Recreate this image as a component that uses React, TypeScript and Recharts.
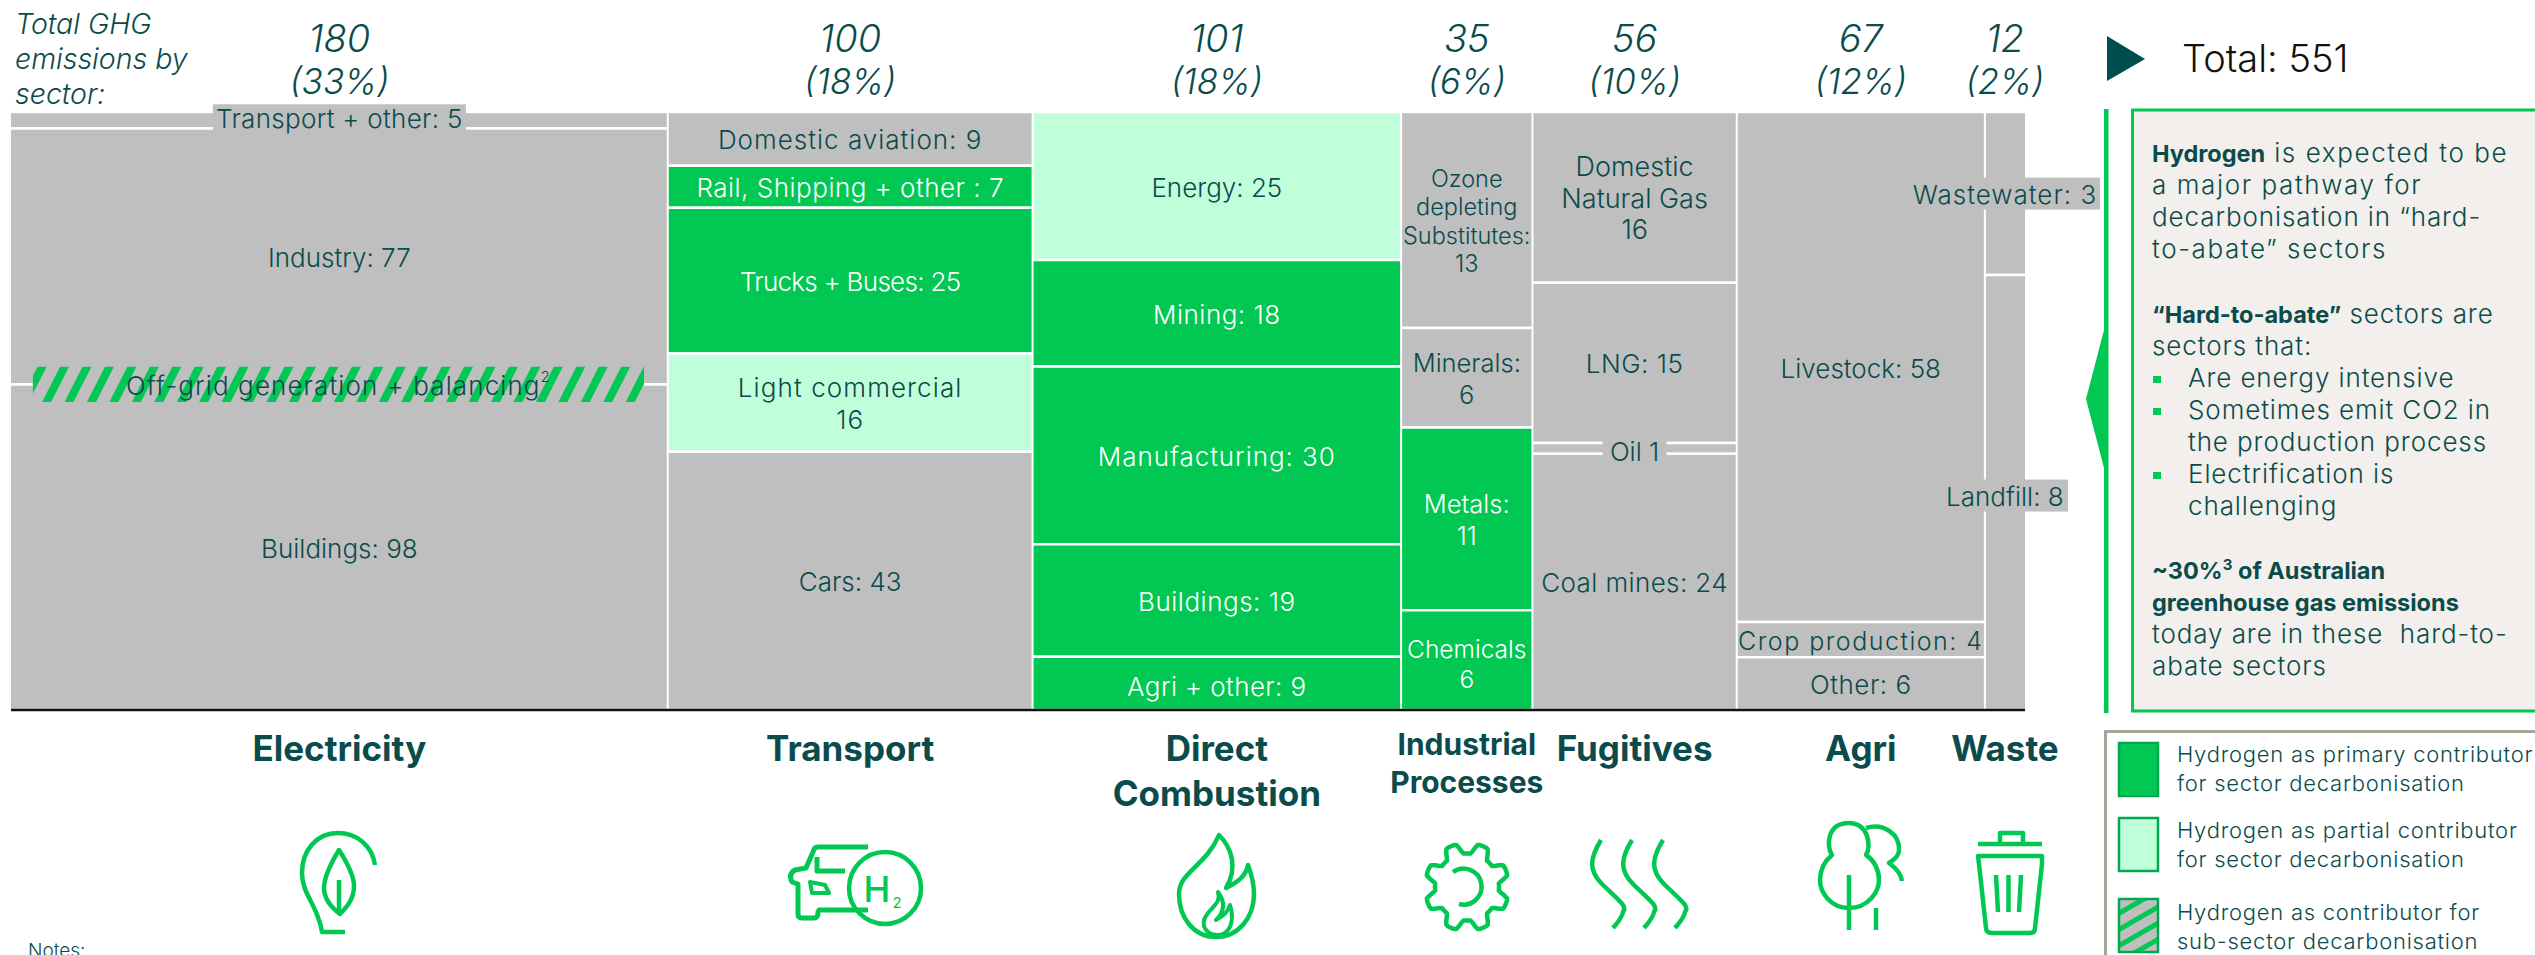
import React from 'react';
import { ComposedChart, Area, Scatter, XAxis, YAxis, ReferenceLine } from 'recharts';

const FONT = 'Inter, "Noto Sans", sans-serif';
const TEAL = '#0A4B4B';
const GREEN = '#00C853';
const LIGHT = '#C0FFD9';
const GRAY = '#BFBFBF';

const sectorNames = [['Electricity'], ['Transport'], ['Direct', 'Combustion'], ['Industrial', 'Processes'], ['Fugitives'], ['Agri'], ['Waste']];
const sectorTotals = ['180', '100', '101', '35', '56', '67', '12'];
const sectorShares = ['(33%)', '(18%)', '(18%)', '(6%)', '(10%)', '(12%)', '(2%)'];

const electricityValues = [5, 77, 98];
const transportValues = [9, 7, 24.4, 16.4, 43.2];
const combustionValues = [25, 18, 30, 19, 9];
const industrialValues = [13, 6, 11, 6];
const fugitivesValues = [16, 15, 1, 24];
const agriValues = [58, 4, 6];
const wasteValues = [3, 8];

const electricityLabels = ['Transport + other: 5', 'Industry: 77', 'Buildings: 98'];
const transportLabels = ['Domestic aviation: 9', 'Rail, Shipping + other : 7', 'Trucks + Buses: 25', 'Light commercial\n16', 'Cars: 43'];
const combustionLabels = ['Energy: 25', 'Mining: 18', 'Manufacturing: 30', 'Buildings: 19', 'Agri + other: 9'];
const industrialLabels = ['Ozone\ndepleting\nSubstitutes:\n13', 'Minerals:\n6', 'Metals:\n11', 'Chemicals\n6'];
const fugitivesLabels = ['Domestic\nNatural Gas\n16', 'LNG: 15', 'Oil 1', 'Coal mines: 24'];
const agriLabels = ['Livestock: 58', 'Crop production: 4', 'Other: 6'];
const wasteLabels = ['Wastewater: 3', 'Landfill: 8'];

const electricityTones = ['none', 'none', 'none'];
const transportTones = ['none', 'primary', 'primary', 'partial', 'none'];
const combustionTones = ['partial', 'primary', 'primary', 'primary', 'primary'];
const industrialTones = ['none', 'none', 'primary', 'primary'];
const fugitivesTones = ['none', 'none', 'none', 'none'];
const agriTones = ['none', 'none', 'none'];
const wasteTones = ['none', 'none'];

const allValues = [electricityValues, transportValues, combustionValues, industrialValues, fugitivesValues, agriValues, wasteValues];
const allLabels = [electricityLabels, transportLabels, combustionLabels, industrialLabels, fugitivesLabels, agriLabels, wasteLabels];
const allTones = [electricityTones, transportTones, combustionTones, industrialTones, fugitivesTones, agriTones, wasteTones];

// Hatched sub-sector, in axis units (x along the width axis, y as share of the column)
const offGridLabel = 'Off-grid generation + balancing';
const offGridX = [6, 173.5];
const offGridShare = [0.515, 0.574];

const toneFill: Record<string, string> = { none: GRAY, primary: GREEN, partial: LIGHT };

// text-box tweaks for labels that spill beyond their cell
const labelStyle: Record<string, any> = {
  'Transport + other: 5': { bg: [253, 26], dy: -3, ls: 0.3 },
  'Domestic aviation: 9': { ls: 1 },
  'Rail, Shipping + other : 7': { ls: 0.5 },
  'Trucks + Buses: 25': { ls: -0.7 },
  'Light commercial\n16': { ls: 1.1 },
  'Mining: 18': { ls: 0.5 },
  'Manufacturing: 30': { ls: 0.95 },
  'Buildings: 19': { ls: 0.5 },
  'Agri + other: 9': { dy: 2, ls: 0.4 },
  'Coal mines: 24': { ls: 0.4 },
  'LNG: 15': { ls: 0.5 },
  'Other: 6': { ls: 0.5 },
  'Oil 1': { bg: [64, 22], dy: 2 },
  'Wastewater: 3': { bg: [190, 32], ls: 1 },
  'Landfill: 8': { bg: [126, 32], dy: 3 },
  'Ozone\ndepleting\nSubstitutes:\n13': { size: 23.5, lh: 28.5 },
  'Domestic\nNatural Gas\n16': { size: 27 },
  'Minerals:\n6': { size: 25.5, lh: 32 },
  'Metals:\n11': { size: 25.5, lh: 32 },
  'Chemicals\n6': { size: 24.5, lh: 30, dy: 3 },
  'Crop production: 4': { size: 25, ls: 1.5 },
  'Off-grid generation + balancing': { ls: 1.1 },
};

let cursor = 0;
const cells: any[] = [];
const edges: number[] = [];
const sectorMids: number[] = [];
allValues.forEach((values, s) => {
  const width = values.reduce((a, b) => a + b, 0);
  let top = 1;
  values.forEach((v, i) => {
    const bottom = top - v / width;
    cells.push({
      key: `${s}-${i}`,
      tone: allTones[s][i],
      label: allLabels[s][i],
      points: [
        { x: cursor, range: [bottom, top] },
        { x: cursor + width, range: [bottom, top] },
      ],
      center: { x: cursor + width / 2, y: (top + bottom) / 2, label: allLabels[s][i], tone: allTones[s][i] },
    });
    top = bottom;
  });
  sectorMids.push(cursor + width / 2);
  cursor += width;
  edges.push(cursor);
});
const totalWidth = cursor;

const offGridPoints = [
  { x: offGridX[0], range: offGridShare },
  { x: offGridX[1], range: offGridShare },
];
const labelPoints = [
  ...cells.map((c) => c.center),
  { x: (offGridX[0] + offGridX[1]) / 2, y: (offGridShare[0] + offGridShare[1]) / 2, label: offGridLabel, tone: 'hatch' },
];
const headerPoints = sectorMids.map((x) => ({ x, y: 1 }));

const LabelShape = (props: any) => {
  const p = props.payload || props;
  const style = labelStyle[p.label] || {};
  const size = style.size || 26;
  const lh = style.lh || 31.5;
  const lines = String(p.label).split('\n');
  const cy = props.cy + 1 + (style.dy || 0);
  const color = p.tone === 'primary' ? '#FFFFFF' : TEAL;
  const start = cy - ((lines.length - 1) * lh) / 2;
  return (
    <g>
      {style.bg && <rect x={props.cx - style.bg[0] / 2} y={cy - 1 - style.bg[1] / 2} width={style.bg[0]} height={style.bg[1]} fill={GRAY} />}
      {lines.map((ln, i) => (
        <text key={i} x={props.cx} y={start + i * lh} textAnchor="middle" dominantBaseline="central" fontFamily={FONT} fontWeight={300} fontSize={size} letterSpacing={style.ls || 0} fill={color}>
          {ln}
          {p.tone === 'hatch' && <tspan fontSize={15} dy={-9}>2</tspan>}
        </text>
      ))}
    </g>
  );
};

const TotalTick = (props: any) => {
  const { x, y, index } = props;
  return (
    <g fontFamily={FONT} fontStyle="italic" fontWeight={300} fill={TEAL} textAnchor="middle">
      <text x={x} y={y - 54} fontSize={38}>{sectorTotals[index]}</text>
      <text x={x} y={y - 12} fontSize={35}>{sectorShares[index]}</text>
    </g>
  );
};

const NameTick = (props: any) => {
  const { x, y, index } = props;
  const lines = sectorNames[index];
  const small = index === 3;
  return (
    <g fontFamily={FONT} fontWeight={700} fontSize={small ? 30 : 35} fill={TEAL} textAnchor="middle">
      {lines.map((ln, i) => (
        <text key={i} x={x} y={y + (small ? 37 : 43) + i * (small ? 38 : 45)}>{ln}</text>
      ))}
    </g>
  );
};

const Gear = () => {
  const pts: string[] = [];
  for (let a = 0; a < 360; a += 3) {
    const t = (a * Math.PI) / 180;
    const w = Math.cos(8 * t + Math.PI * 8 * 0.25 + Math.PI);
    const r = 37 + 5 * Math.max(-1, Math.min(1, w * 1.8));
    pts.push(`${(1467 + r * Math.sin(t)).toFixed(1)},${(887 - r * 1.05 * Math.cos(t)).toFixed(1)}`);
  }
  return (
    <g>
      <polygon points={pts.join(' ')} />
      <path d="M1453 872 A18 18 0 1 1 1459 904" />
    </g>
  );
};

const Icons = () => (
  <g fill="none" stroke={GREEN} strokeWidth={4.5} strokeLinecap="butt" strokeLinejoin="round">
    {/* bulb */}
    <path d="M375 865 C372 845 356 833 338 833 C316 833 302 851 302 873 C302 895 318 905 322 932 L345 932" />
    <path d="M339 850 C328 868 324 880 324 888 C324 900 332 908 340 914 C348 906 354 898 354 886 C354 876 348 864 339 850 Z" />
    <path d="M339 880 L339 912" />
    {/* H2 car */}
    <path d="M868 847 L818 847 Q814 847 813 852 L806 868 L795 870 Q788 874 792 882 L798 884 L798 914 Q798 918 802 918 L814 918 Q818 918 818 912 L819 910 L868 910" strokeWidth={5} />
    <path d="M817 857 L817 871 L845 871" strokeWidth={5} />
    <path d="M810 882 L825 885 L829 893 L812 893 Z" strokeWidth={4} />
    <circle cx={885} cy={888} r={36} />
    <text x={877} y={902} fontFamily={FONT} fontSize={36} fontWeight={500} fill={GREEN} stroke="none" textAnchor="middle">H</text>
    <text x={897} y={908} fontFamily={FONT} fontSize={15} fill={GREEN} stroke="none" textAnchor="middle">2</text>
    {/* flame */}
    <path d="M1219 835 C1232 848 1238 868 1226 888 C1238 882 1246 876 1248 865 C1252 876 1254 884 1254 894 C1254 918 1238 937 1216 937 C1194 937 1179 918 1179 894 C1179 872 1206 866 1219 835 Z" />
    <path d="M1218 892 C1222 905 1208 908 1204 920 C1202 930 1210 935 1218 935 C1226 935 1232 928 1232 916 C1232 912 1231 908 1230 905 C1228 912 1224 916 1216 920 C1226 910 1224 900 1218 892 Z" strokeWidth={4} />
    {/* gear */}
    <Gear />
    {/* fugitive waves */}
    {[0, 31, 62].map((d) => (
      <path key={d} d={`M${1601 + d} 840 C${1590 + d} 858 ${1588 + d} 870 ${1602 + d} 884 C${1618 + d} 900 ${1628 + d} 906 ${1623 + d} 912 C${1622 + d} 918 ${1618 + d} 922 ${1613 + d} 928`} />
    ))}
    {/* trees */}
    <path d="M1849 908 C1830 908 1820 892 1820 880 C1820 868 1826 860 1832 855 C1826 846 1827 823 1849 823 C1868 823 1872 846 1866 855 C1874 860 1879 870 1879 880 C1879 892 1868 908 1849 908 Z" />
    <path d="M1849 875 L1849 930" />
    <path d="M1866 828 C1884 822 1900 835 1899 850 C1899 856 1894 860 1889 863 C1896 868 1901 874 1902 881" />
    <path d="M1876 908 L1876 930" />
    {/* bin */}
    <path d="M1978 844 L2042 844" />
    <path d="M2000 844 L2000 833 L2023 833 L2023 844" />
    <path d="M1978 856 L2042 856 L2042 864 L2035 928 Q2035 933 2030 933 L1992 933 Q1986 933 1986 928 L1979 864 Z" />
    <path d="M1996 875 L1998 912 M2008.5 875 L2008.5 912 M2021 875 L2019 912" />
  </g>
);

const panelLines: any[] = [
  [2152, 162, [['Hydrogen', 1], [' is expected to be', 3]]],
  [2152, 194, [['a major pathway for', 3]]],
  [2152, 226, [['decarbonisation in \u201Chard-', 0]]],
  [2152, 258, [['to-abate\u201D sectors', 3]]],
  [2152, 323, [['\u201CHard-to-abate\u201D', 1], [' sectors are', 0]]],
  [2152, 355, [['sectors that:', 0]]],
  [2188, 387, [['Are energy intensive', 0]]],
  [2188, 419, [['Sometimes emit CO2 in', 0]]],
  [2188, 451, [['the production process', 0]]],
  [2188, 483, [['Electrification is', 0]]],
  [2188, 515, [['challenging', 0]]],
  [2152, 579, [['~30%', 1], ['3', 2], [' of Australian', 1]]],
  [2152, 611, [['greenhouse gas emissions', 1]]],
  [2152, 643, [['today are in these  hard-to-', 0]]],
  [2152, 675, [['abate sectors', 0]]],
];
const panelBulletRows = [376, 408, 472];

const legendRows = [
  { fill: GREEN, y: 743, lines: ['Hydrogen as primary contributor', 'for sector decarbonisation'], ty: [762, 791] },
  { fill: LIGHT, y: 818, lines: ['Hydrogen as partial contributor', 'for sector decarbonisation'], ty: [838, 867] },
  { fill: 'url(#legendHatch)', y: 899, lines: ['Hydrogen as contributor for', 'sub-sector decarbonisation'], ty: [920, 949] },
];

const Overlay = () => (
  <svg width={2535} height={955} style={{ position: 'absolute', left: 0, top: 0, pointerEvents: 'none' }}>
    <defs>
      <pattern id="legendHatch" patternUnits="userSpaceOnUse" width={14} height={14} patternTransform="rotate(60)">
        <rect width={14} height={14} fill={GRAY} />
        <rect width={5} height={14} fill={GREEN} />
      </pattern>
    </defs>
    <g fontFamily={FONT} fontStyle="italic" fontWeight={300} fontSize={28.5} fill={TEAL}>
      <text x={15} y={34}>Total GHG</text>
      <text x={15} y={69}>emissions by</text>
      <text x={15} y={104}>sector:</text>
    </g>
    <Icons />
    <text x={28} y={957} fontFamily={FONT} fontWeight={300} fontSize={19} fill={TEAL}>Notes:</text>
    <polygon points="2107,36 2145,59 2107,81" fill="#004D4D" />
    <text x={2182} y={72} fontFamily={FONT} fontWeight={300} fontSize={38} fill="#111">Total: 551</text>
    <rect x={2104} y={109} width={4.5} height={604} fill={GREEN} />
    <polygon points="2086,399 2104,330 2104,468" fill={GREEN} />
    <rect x={2132.5} y={110} width={420} height={601} fill="#F2EFEC" stroke={GREEN} strokeWidth={3} />
    <g fontFamily={FONT} fill={TEAL}>
      {panelLines.map(([x, y, runs]: any, i: number) => (
        <text key={i} x={x} y={y} xmlSpace="preserve">
          {runs.map(([t, kind]: any, j: number) => (
            <tspan
              key={j}
              fontWeight={kind === 1 || kind === 2 ? 700 : 300}
              fontSize={kind === 2 ? 15 : kind === 1 ? 23.5 : 26}
              letterSpacing={kind === 3 ? 1.6 : kind === 0 ? 0.9 : 0}
              dy={kind === 2 ? -9 : j > 0 && runs[j - 1][1] === 2 ? 9 : 0}
            >
              {t}
            </tspan>
          ))}
        </text>
      ))}
    </g>
    {panelBulletRows.map((y) => (
      <rect key={y} x={2153} y={y} width={8} height={7} fill={GREEN} />
    ))}
    <rect x={2105.5} y={731.5} width={500} height={300} fill="none" stroke="#A5A598" strokeWidth={3} />
    {legendRows.map((r) => (
      <g key={r.y}>
        <rect x={2119} y={r.y} width={39} height={53} fill={r.fill} stroke="#00A84F" strokeWidth={2.5} />
        {r.lines.map((ln, i) => (
          <text key={i} x={2177} y={r.ty[i]} fontFamily={FONT} fontWeight={300} fontSize={22} letterSpacing={0.75} fill={TEAL}>{ln}</text>
        ))}
      </g>
    ))}
  </svg>
);

export default function App() {
  return (
    <div style={{ position: 'absolute', left: 0, top: 0, width: 2535, height: 955, overflow: 'hidden', background: '#fff' }}>
      <ComposedChart width={2535} height={955} margin={{ top: 0, right: 510, bottom: 0, left: 11 }}>
        <defs>
          <pattern id="offGridHatch" patternUnits="userSpaceOnUse" width={20} height={20} patternTransform="rotate(27)">
            <rect width={8} height={20} fill={GREEN} />
          </pattern>
        </defs>
        <XAxis
          xAxisId="bottom"
          dataKey="x"
          type="number"
          domain={[0, totalWidth]}
          ticks={sectorMids}
          interval={0}
          height={245}
          axisLine={{ stroke: '#111', strokeWidth: 2.5 }}
          tickLine={false}
          tick={<NameTick />}
        />
        <XAxis
          xAxisId="top"
          orientation="top"
          dataKey="x"
          type="number"
          domain={[0, totalWidth]}
          ticks={sectorMids}
          interval={0}
          height={112}
          axisLine={false}
          tickLine={false}
          tickMargin={0}
          tick={<TotalTick />}
        />
        <YAxis type="number" domain={[0, 1]} hide width={0} />
        {cells.map((c) => (
          <Area
            key={c.key}
            xAxisId="bottom"
            data={c.points}
            dataKey="range"
            type="linear"
            fill={toneFill[c.tone]}
            fillOpacity={1}
            stroke="#FFFFFF"
            strokeWidth={2.5}
            dot={false}
            activeDot={false}
            legendType="none"
            isAnimationActive={false}
          />
        ))}
        {edges.slice(0, -1).map((e) => (
          <ReferenceLine key={e} xAxisId="bottom" x={e} stroke="#FFFFFF" strokeWidth={2} />
        ))}
        <Area xAxisId="bottom" data={offGridPoints} dataKey="range" type="linear" fill={GRAY} fillOpacity={1} stroke="none" dot={false} activeDot={false} isAnimationActive={false} />
        <Area xAxisId="bottom" data={offGridPoints} dataKey="range" type="linear" fill="url(#offGridHatch)" fillOpacity={1} stroke="none" dot={false} activeDot={false} isAnimationActive={false} />
        <Scatter xAxisId="top" data={headerPoints} dataKey="y" shape={() => null} isAnimationActive={false} />
        <Scatter xAxisId="bottom" data={labelPoints} dataKey="y" shape={<LabelShape />} isAnimationActive={false} />
      </ComposedChart>
      <Overlay />
    </div>
  );
}
